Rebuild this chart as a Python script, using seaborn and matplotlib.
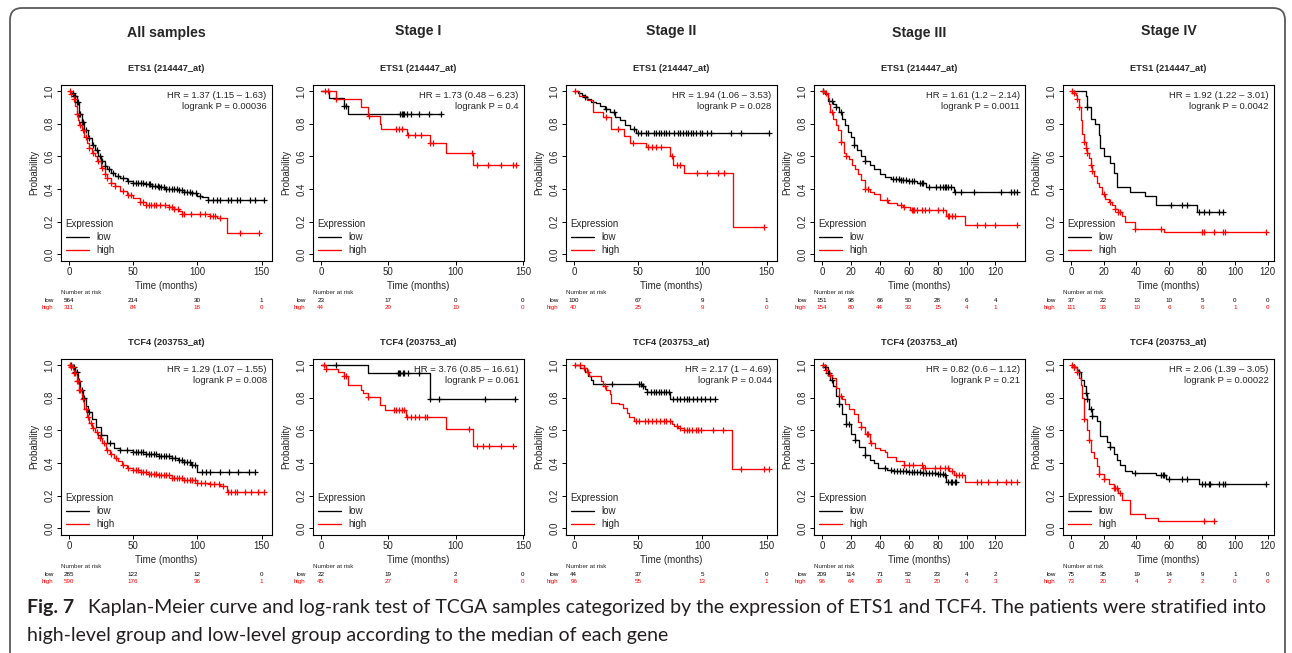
# =============================================================
# Kaplan-Meier curves (TCGA) - ETS1 / TCF4 split by stage
# high vs low expression, censored marks as "+"
# =============================================================

import numpy as np
import matplotlib
matplotlib.use("Agg")
import matplotlib.pyplot as plt
import seaborn as sns
from matplotlib.patches import FancyBboxPatch
from matplotlib.transforms import IdentityTransform


# -------------------------------------------------------------
# DATA
# -------------------------------------------------------------
stage_names = ["All samples", "Stage I", "Stage II", "Stage III", "Stage IV"]
gene_titles = ["ETS1 (214447_at)", "TCF4 (203753_at)"]

xticks_long = [0, 50, 100, 150]
xticks_short = [0, 20, 40, 60, 80, 100, 120]

# ---- ETS1, all samples ----
ets1_all_low_t = [0, 2, 4, 6, 8, 10, 12, 15, 18, 20, 23, 25, 28, 30, 33, 36, 40, 45, 50, 55,
                  60, 65, 70, 75, 80, 85, 90, 95, 100, 104, 108, 152]
ets1_all_low_s = [1.0, 0.99, 0.97, 0.93, 0.86, 0.81, 0.76, 0.71, 0.67, 0.64, 0.60, 0.57, 0.54,
                  0.52, 0.50, 0.48, 0.465, 0.45, 0.44, 0.435, 0.43, 0.42, 0.41, 0.40, 0.40,
                  0.395, 0.385, 0.375, 0.36, 0.35, 0.333, 0.333]
ets1_all_low_c = [3, 4, 5, 6, 7, 8, 9, 10, 11, 13, 16, 19, 22, 24, 26, 28, 31, 34, 38, 42, 46,
                  50, 52, 54, 56, 58, 60, 62, 63, 65, 67, 69, 70, 72, 74, 76, 78, 80, 82, 84,
                  86, 88, 90, 92, 94, 96, 99, 102, 108, 112, 115, 118, 124, 126, 131, 133,
                  141, 145, 152]
ets1_all_high_t = [0, 2, 4, 5, 6, 7, 8, 10, 12, 14, 16, 18, 20, 22, 25, 28, 30, 33, 36, 40,
                   45, 50, 55, 60, 78, 82, 86, 88, 100, 110, 115, 123, 148]
ets1_all_high_s = [1.0, 0.98, 0.95, 0.91, 0.86, 0.82, 0.79, 0.76, 0.72, 0.68, 0.65, 0.62, 0.60,
                   0.57, 0.53, 0.49, 0.465, 0.44, 0.42, 0.39, 0.365, 0.345, 0.32, 0.305, 0.29,
                   0.28, 0.265, 0.25, 0.245, 0.235, 0.225, 0.13, 0.13]
ets1_all_high_c = [1, 2, 4, 6, 9, 11, 13, 16, 19, 23, 26, 28, 30, 33, 36, 42, 46, 48, 55, 58,
                   60, 62, 64, 66, 68, 71, 75, 78, 80, 82, 85, 88, 90, 95, 102, 106, 110, 112,
                   114, 118, 133, 148]

# ---- ETS1, stage I ----
ets1_s1_low_t = [0, 6, 17, 20, 89]
ets1_s1_low_s = [1.0, 0.955, 0.91, 0.86, 0.86]
ets1_s1_low_c = [17, 19, 59, 60, 61, 62, 64, 67, 73, 80, 89]
ets1_s1_high_t = [0, 11, 30, 35, 44, 45, 64, 81, 93, 113, 145]
ets1_s1_high_s = [1.0, 0.95, 0.90, 0.85, 0.80, 0.77, 0.73, 0.68, 0.62, 0.545, 0.545]
ets1_s1_high_c = [3, 5, 11, 36, 56, 58, 60, 65, 70, 74, 81, 83, 112, 116, 124, 134, 143, 145]

# ---- ETS1, stage II ----
ets1_s2_low_t = [0, 3, 6, 8, 10, 13, 17, 20, 24, 28, 32, 36, 40, 44, 48, 152]
ets1_s2_low_s = [1.0, 0.99, 0.975, 0.965, 0.95, 0.935, 0.925, 0.91, 0.89, 0.87, 0.84, 0.82,
                 0.79, 0.765, 0.745, 0.745]
ets1_s2_low_c = [9, 25, 31, 47, 50, 52, 56, 58, 62, 64, 66, 68, 70, 72, 74, 78, 81, 83, 85,
                 87, 89, 91, 93, 95, 98, 100, 104, 107, 122, 130, 152]
ets1_s2_high_t = [0, 4, 10, 15, 23, 29, 39, 44, 56, 75, 77, 86, 124, 148]
ets1_s2_high_s = [1.0, 0.97, 0.945, 0.87, 0.84, 0.765, 0.725, 0.68, 0.655, 0.60, 0.55, 0.50,
                  0.168, 0.168]
ets1_s2_high_c = [1, 25, 34, 46, 58, 61, 64, 68, 76, 80, 83, 96, 104, 112, 117, 148]

# ---- ETS1, stage III ----
ets1_s3_low_t = [0, 2, 4, 8, 10, 12, 14, 16, 18, 20, 22, 24, 27, 30, 33, 36, 40, 44, 48, 55,
                 60, 66, 70, 72, 88, 91, 135]
ets1_s3_low_s = [1.0, 0.98, 0.94, 0.92, 0.90, 0.87, 0.83, 0.79, 0.75, 0.72, 0.67, 0.64, 0.60,
                 0.57, 0.545, 0.52, 0.49, 0.475, 0.46, 0.455, 0.45, 0.44, 0.435, 0.415, 0.41,
                 0.385, 0.385]
ets1_s3_low_c = [1, 7, 10, 13, 22, 30, 49, 51, 53, 55, 56, 58, 60, 62, 64, 68, 69, 70, 74, 79,
                 82, 84, 85, 86, 87, 89, 92, 96, 105, 124, 131, 133, 135]
ets1_s3_high_t = [0, 2, 4, 5, 6, 8, 10, 11, 13, 15, 17, 19, 21, 23, 25, 27, 30, 33, 36, 40,
                  46, 52, 56, 61, 86, 99, 135]
ets1_s3_high_s = [1.0, 0.99, 0.96, 0.92, 0.87, 0.83, 0.79, 0.76, 0.69, 0.62, 0.60, 0.585,
                  0.55, 0.52, 0.49, 0.455, 0.40, 0.385, 0.37, 0.335, 0.315, 0.30, 0.29, 0.275,
                  0.235, 0.18, 0.18]
ets1_s3_high_c = [1, 3, 7, 13, 17, 30, 32, 45, 55, 57, 62, 63, 64, 66, 69, 71, 74, 80, 84, 87,
                  88, 90, 92, 107, 113, 120, 135]

# ---- ETS1, stage IV ----
ets1_s4_low_t = [0, 9, 10, 12, 15, 17, 18, 20, 24, 26, 28, 36, 45, 52, 77, 93]
ets1_s4_low_s = [1.0, 0.97, 0.90, 0.83, 0.80, 0.73, 0.65, 0.60, 0.56, 0.50, 0.41, 0.385,
                 0.355, 0.30, 0.26, 0.26]
ets1_s4_low_c = [10, 61, 68, 71, 78, 81, 84, 90, 93]
ets1_s4_high_t = [0, 2, 3, 4, 5, 6, 7, 8, 9, 10, 11, 12, 13, 14, 16, 17, 19, 21, 23, 25, 27,
                  29, 31, 33, 39, 57, 119]
ets1_s4_high_s = [1.0, 0.99, 0.975, 0.95, 0.90, 0.82, 0.74, 0.69, 0.65, 0.62, 0.59, 0.55,
                  0.51, 0.48, 0.44, 0.41, 0.37, 0.34, 0.32, 0.30, 0.28, 0.26, 0.235, 0.20,
                  0.158, 0.136, 0.136]
ets1_s4_high_c = [1, 2, 4, 5, 8, 9, 10, 12, 13, 20, 24, 27, 29, 30, 39, 55, 80, 81, 87, 93,
                  94, 119]

# ---- TCF4, all samples ----
tcf4_all_low_t = [0, 3, 5, 7, 9, 11, 13, 15, 18, 21, 25, 30, 35, 40, 50, 60, 70, 80, 85, 90,
                  95, 100, 145]
tcf4_all_low_s = [1.0, 0.985, 0.96, 0.90, 0.85, 0.80, 0.75, 0.71, 0.67, 0.62, 0.57, 0.52,
                  0.495, 0.48, 0.47, 0.455, 0.445, 0.43, 0.42, 0.405, 0.39, 0.345, 0.345]
tcf4_all_low_c = [2, 4, 5, 6, 8, 10, 12, 16, 25, 32, 40, 45, 50, 52, 54, 56, 58, 60, 62, 64,
                  66, 68, 70, 72, 74, 76, 78, 80, 83, 86, 88, 90, 92, 94, 96, 98, 104, 107,
                  110, 118, 125, 132, 140, 145]
tcf4_all_high_t = [0, 2, 4, 6, 8, 10, 12, 14, 16, 18, 20, 23, 26, 29, 32, 35, 38, 41, 45, 50,
                   56, 62, 70, 80, 90, 100, 110, 118, 123, 152]
tcf4_all_high_s = [1.0, 0.985, 0.95, 0.90, 0.85, 0.79, 0.73, 0.68, 0.645, 0.615, 0.59, 0.555,
                   0.52, 0.48, 0.455, 0.43, 0.41, 0.39, 0.37, 0.355, 0.343, 0.335, 0.325,
                   0.31, 0.295, 0.28, 0.27, 0.258, 0.222, 0.222]
tcf4_all_high_c = [1, 2, 3, 4, 5, 6, 7, 8, 9, 11, 13, 15, 17, 19, 22, 24, 27, 30, 33, 37, 42,
                   46, 50, 52, 54, 56, 58, 60, 62, 64, 66, 68, 70, 72, 74, 76, 78, 80, 82, 84,
                   86, 88, 90, 92, 94, 96, 98, 100, 103, 106, 110, 113, 117, 120, 124, 126,
                   129, 131, 137, 142, 147, 152]

# ---- TCF4, stage I ----
tcf4_s1_low_t = [0, 35, 81, 144]
tcf4_s1_low_s = [1.0, 0.953, 0.79, 0.79]
tcf4_s1_low_c = [11, 57, 58, 59, 61, 62, 65, 73, 81, 88, 122, 144]
tcf4_s1_high_t = [0, 4, 13, 17, 20, 30, 31, 35, 44, 48, 63, 93, 113, 145]
tcf4_s1_high_s = [1.0, 0.977, 0.955, 0.93, 0.88, 0.85, 0.827, 0.805, 0.755, 0.725, 0.68, 0.61,
                  0.505, 0.505]
tcf4_s1_high_c = [2, 4, 17, 19, 35, 54, 56, 58, 60, 62, 64, 67, 70, 73, 77, 79, 110, 116, 120,
                  125, 134, 143]

# ---- TCF4, stage II ----
tcf4_s2_low_t = [0, 5, 9, 11, 13, 15, 53, 55, 57, 75, 110]
tcf4_s2_low_s = [1.0, 0.98, 0.955, 0.93, 0.91, 0.885, 0.87, 0.855, 0.835, 0.795, 0.795]
tcf4_s2_low_c = [30, 51, 52, 54, 57, 60, 62, 64, 66, 68, 70, 72, 74, 77, 80, 83, 86, 88, 90,
                 93, 96, 99, 102, 106, 110]
tcf4_s2_high_t = [0, 8, 10, 12, 21, 23, 25, 28, 29, 35, 38, 41, 43, 47, 76, 78, 81, 86, 123,
                  152]
tcf4_s2_high_s = [1.0, 0.98, 0.955, 0.935, 0.90, 0.87, 0.85, 0.82, 0.77, 0.76, 0.735, 0.705,
                  0.68, 0.655, 0.64, 0.625, 0.615, 0.605, 0.365, 0.365]
tcf4_s2_high_c = [1, 5, 8, 11, 24, 48, 51, 55, 58, 61, 64, 67, 70, 72, 75, 80, 83, 86, 88, 90,
                  92, 95, 97, 99, 108, 116, 130, 148, 152]

# ---- TCF4, stage III ----
tcf4_s3_low_t = [0, 2, 4, 6, 8, 10, 12, 14, 17, 20, 23, 26, 30, 33, 36, 39, 45, 50, 60, 70,
                 80, 85, 86, 93]
tcf4_s3_low_s = [1.0, 0.985, 0.95, 0.91, 0.87, 0.81, 0.76, 0.70, 0.64, 0.58, 0.54, 0.50, 0.45,
                 0.42, 0.40, 0.37, 0.36, 0.353, 0.345, 0.34, 0.335, 0.33, 0.287, 0.287]
tcf4_s3_low_c = [2, 4, 5, 7, 12, 17, 19, 23, 30, 44, 48, 50, 52, 54, 56, 58, 60, 62, 64, 66,
                 68, 70, 72, 74, 76, 78, 80, 82, 84, 85, 87, 89, 90, 92, 93]
tcf4_s3_high_t = [0, 3, 5, 7, 10, 12, 14, 16, 19, 22, 25, 27, 30, 33, 37, 40, 44, 45, 51, 57,
                  70, 88, 91, 99, 135]
tcf4_s3_high_s = [1.0, 0.97, 0.94, 0.92, 0.86, 0.81, 0.79, 0.76, 0.73, 0.70, 0.65, 0.62,
                  0.575, 0.52, 0.49, 0.48, 0.47, 0.435, 0.41, 0.39, 0.37, 0.35, 0.33, 0.287,
                  0.287]
tcf4_s3_high_c = [1, 3, 6, 13, 27, 31, 32, 34, 57, 60, 63, 69, 70, 71, 78, 82, 85, 87, 90, 93,
                  95, 97, 107, 110, 115, 121, 127, 131, 135]

# ---- TCF4, stage IV ----
tcf4_s4_low_t = [0, 2, 4, 5, 6, 8, 9, 10, 11, 13, 16, 18, 22, 24, 26, 28, 30, 33, 37, 52, 58,
                 78, 119]
tcf4_s4_low_s = [1.0, 0.99, 0.97, 0.955, 0.91, 0.87, 0.83, 0.79, 0.73, 0.69, 0.66, 0.565,
                 0.53, 0.50, 0.455, 0.42, 0.39, 0.35, 0.34, 0.33, 0.30, 0.27, 0.27]
tcf4_s4_low_c = [2, 5, 9, 10, 12, 13, 24, 39, 55, 56, 57, 60, 68, 71, 80, 82, 84, 85, 90, 93,
                 94, 119]
tcf4_s4_high_t = [0, 2, 4, 5, 6, 7, 8, 10, 11, 12, 14, 16, 17, 20, 23, 26, 29, 31, 36, 45, 53,
                  87]
tcf4_s4_high_s = [1.0, 0.985, 0.96, 0.92, 0.88, 0.80, 0.67, 0.60, 0.54, 0.47, 0.43, 0.38,
                  0.335, 0.30, 0.27, 0.245, 0.22, 0.175, 0.09, 0.067, 0.045, 0.045]
tcf4_s4_high_c = [1, 2, 4, 8, 11, 17, 20, 26, 27, 28, 30, 81, 87]

# ---- HR / logrank text ----
ets1_hr = ["HR = 1.37 (1.15 \u2013 1.63)", "HR = 1.73 (0.48 \u2013 6.23)",
           "HR = 1.94 (1.06 \u2013 3.53)", "HR = 1.61 (1.2 \u2013 2.14)",
           "HR = 1.92 (1.22 \u2013 3.01)"]
ets1_p = ["logrank P = 0.00036", "logrank P = 0.4", "logrank P = 0.028",
          "logrank P = 0.0011", "logrank P = 0.0042"]
tcf4_hr = ["HR = 1.29 (1.07 \u2013 1.55)", "HR = 3.76 (0.85 \u2013 16.61)",
           "HR = 2.17 (1 \u2013 4.69)", "HR = 0.82 (0.6 \u2013 1.12)",
           "HR = 2.06 (1.39 \u2013 3.05)"]
tcf4_p = ["logrank P = 0.008", "logrank P = 0.061", "logrank P = 0.044",
          "logrank P = 0.21", "logrank P = 0.00022"]

# ---- number at risk ----
ets1_risk_low = [[564, 214, 30, 1], [23, 17, 0, 0], [100, 67, 9, 1],
                 [151, 98, 66, 50, 28, 6, 4], [37, 22, 13, 10, 5, 0, 0]]
ets1_risk_high = [[311, 84, 18, 0], [44, 29, 10, 0], [40, 25, 9, 0],
                  [154, 80, 44, 33, 15, 4, 1], [111, 33, 10, 6, 6, 1, 0]]
tcf4_risk_low = [[285, 122, 12, 0], [22, 19, 2, 0], [44, 37, 5, 0],
                 [209, 114, 71, 52, 23, 4, 2], [75, 35, 19, 14, 9, 1, 0]]
tcf4_risk_high = [[590, 176, 36, 1], [45, 27, 8, 0], [96, 55, 13, 1],
                  [96, 64, 39, 31, 20, 6, 3], [73, 20, 4, 2, 2, 0, 0]]

caption_bold = "Fig. 7"
caption_line1 = ("Kaplan-Meier curve and log-rank test of TCGA samples categorized by the "
                 "expression of ETS1 and TCF4. The patients were stratified into")
caption_line2 = "high-level group and low-level group according to the median of each gene"


# -------------------------------------------------------------
# group the arrays per panel
# -------------------------------------------------------------
ets1_curves = [
    (ets1_all_low_t, ets1_all_low_s, ets1_all_low_c, ets1_all_high_t, ets1_all_high_s, ets1_all_high_c),
    (ets1_s1_low_t, ets1_s1_low_s, ets1_s1_low_c, ets1_s1_high_t, ets1_s1_high_s, ets1_s1_high_c),
    (ets1_s2_low_t, ets1_s2_low_s, ets1_s2_low_c, ets1_s2_high_t, ets1_s2_high_s, ets1_s2_high_c),
    (ets1_s3_low_t, ets1_s3_low_s, ets1_s3_low_c, ets1_s3_high_t, ets1_s3_high_s, ets1_s3_high_c),
    (ets1_s4_low_t, ets1_s4_low_s, ets1_s4_low_c, ets1_s4_high_t, ets1_s4_high_s, ets1_s4_high_c),
]
tcf4_curves = [
    (tcf4_all_low_t, tcf4_all_low_s, tcf4_all_low_c, tcf4_all_high_t, tcf4_all_high_s, tcf4_all_high_c),
    (tcf4_s1_low_t, tcf4_s1_low_s, tcf4_s1_low_c, tcf4_s1_high_t, tcf4_s1_high_s, tcf4_s1_high_c),
    (tcf4_s2_low_t, tcf4_s2_low_s, tcf4_s2_low_c, tcf4_s2_high_t, tcf4_s2_high_s, tcf4_s2_high_c),
    (tcf4_s3_low_t, tcf4_s3_low_s, tcf4_s3_low_c, tcf4_s3_high_t, tcf4_s3_high_s, tcf4_s3_high_c),
    (tcf4_s4_low_t, tcf4_s4_low_s, tcf4_s4_low_c, tcf4_s4_high_t, tcf4_s4_high_s, tcf4_s4_high_c),
]
rows = [
    (gene_titles[0], ets1_curves, ets1_hr, ets1_p, ets1_risk_low, ets1_risk_high),
    (gene_titles[1], tcf4_curves, tcf4_hr, tcf4_p, tcf4_risk_low, tcf4_risk_high),
]
column_ticks = [xticks_long, xticks_long, xticks_long, xticks_short, xticks_short]


# -------------------------------------------------------------
# STYLE
# -------------------------------------------------------------
sns.set_style("ticks")
plt.rcParams["font.family"] = ["Liberation Sans", "DejaVu Sans"]
plt.rcParams["axes.linewidth"] = 0.8

W, H = 1292, 653
fig = plt.figure(figsize=(W / 100, H / 100), dpi=100)
fig.patch.set_facecolor("white")

ax_lefts = [61, 313, 566, 814, 1063]   # pixel positions of the plot boxes
row_tops = [84.5, 358.5]
ax_w, ax_h = 211, 176.5

LOW_COL, HIGH_COL = "black", "#ff0000"


def km_panel(ax, curve, ticks, hr, p, risk_low, risk_high, title):
    low_t, low_s, low_c, high_t, high_s, high_c = curve
    for t, s, c, col, lab in [(low_t, low_s, low_c, LOW_COL, "low"),
                              (high_t, high_s, high_c, HIGH_COL, "high")]:
        sns.lineplot(x=t, y=s, drawstyle="steps-post", color=col, lw=0.95,
                     estimator=None, errorbar=None, label=lab, ax=ax)
        # censor marks sit on the current survival level
        idx = np.searchsorted(np.asarray(t), c, side="right") - 1
        sns.scatterplot(x=c, y=np.asarray(s)[idx], marker="+", color=col, s=20,
                        linewidth=0.9, legend=False, zorder=3, ax=ax)

    xmax = max(low_t[-1], high_t[-1])
    ax.set_xlim(-0.04 * xmax, 1.04 * xmax)
    ax.set_ylim(-0.04, 1.04)
    ax.set_xticks(ticks)
    ax.set_yticks([0, 0.2, 0.4, 0.6, 0.8, 1.0])
    ax.set_yticklabels(["0.0", "0.2", "0.4", "0.6", "0.8", "1.0"], rotation=90, va="center")
    ax.tick_params(direction="out", length=3, width=0.7, labelsize=7, pad=1.5, color="black")
    for sp in ax.spines.values():
        sp.set_visible(True)
        sp.set_color("black")
        sp.set_linewidth(0.8)

    ax.set_xlabel("Time (months)", fontsize=7, labelpad=3)
    ax.set_ylabel("Probability", fontsize=7)
    ax.yaxis.set_label_coords(-0.105, 0.5)

    ax.text(0.5, 1.088, title, transform=ax.transAxes, ha="center", va="center",
            fontsize=6.7, fontweight="bold")
    ax.text(0.975, 0.94, hr, transform=ax.transAxes, ha="right", va="center", fontsize=6.8)
    ax.text(0.975, 0.877, p, transform=ax.transAxes, ha="right", va="center", fontsize=6.8)

    leg = ax.legend(title="Expression", loc="lower left", bbox_to_anchor=(-0.01, -0.005),
                    frameon=False, fontsize=7, title_fontsize=7, handlelength=2.4,
                    handletextpad=0.8, labelspacing=0.3, borderpad=0.2,
                    alignment="left")
    for ln in leg.get_lines():
        ln.set_linewidth(0.95)

    # number at risk table
    tr = ax.get_xaxis_transform()
    ax.text(0.0, -0.181, "Number at risk", transform=ax.transAxes, ha="left",
            va="center", fontsize=4.5)
    ax.text(-0.035, -0.221, "low", transform=ax.transAxes, ha="right", va="center",
            fontsize=4.5, color=LOW_COL)
    ax.text(-0.035, -0.266, "high", transform=ax.transAxes, ha="right", va="center",
            fontsize=4.5, color=HIGH_COL)
    for xt, nl, nh in zip(ticks, risk_low, risk_high):
        ax.text(xt, -0.221, str(nl), transform=tr, ha="center", va="center",
                fontsize=4.5, color=LOW_COL)
        ax.text(xt, -0.266, str(nh), transform=tr, ha="center", va="center",
                fontsize=4.5, color=HIGH_COL)


# -------------------------------------------------------------
# DRAW THE 2 x 5 GRID
# -------------------------------------------------------------
for r, (gene, curves, hrs, ps, rl, rh) in enumerate(rows):
    for c in range(5):
        left, top = ax_lefts[c], row_tops[r]
        ax = fig.add_axes([left / W, 1 - (top + ax_h) / H, ax_w / W, ax_h / H])
        km_panel(ax, curves[c], column_ticks[c], hrs[c], ps[c], rl[c], rh[c], gene)

# column headers
header_y = [33, 31, 31, 33, 31]
for c, name in enumerate(stage_names):
    fig.text((ax_lefts[c] + ax_w / 2) / W, 1 - header_y[c] / H, name, ha="center",
             va="center", fontsize=10.2, fontweight="bold")

# caption
cap_font = ["Lato", "DejaVu Sans"]
fig.text(27 / W, 1 - 608 / H, caption_bold, ha="left", va="center", fontsize=14,
         fontweight="bold", family=cap_font, color="#231f20")
fig.text(88 / W, 1 - 608 / H, caption_line1, ha="left", va="center", fontsize=14,
         family=cap_font, color="#231f20")
fig.text(27 / W, 1 - 635 / H, caption_line2, ha="left", va="center", fontsize=14,
         family=cap_font, color="#231f20")

# rounded frame around the whole figure (open past the bottom edge)
frame = FancyBboxPatch((10, -30), 1275, H - 8 + 30,
                       boxstyle="round,pad=0,rounding_size=12",
                       transform=IdentityTransform(), fill=False,
                       edgecolor="#5a5a5a", linewidth=1.3)
fig.add_artist(frame)

plt.savefig("out.png", dpi=100)
